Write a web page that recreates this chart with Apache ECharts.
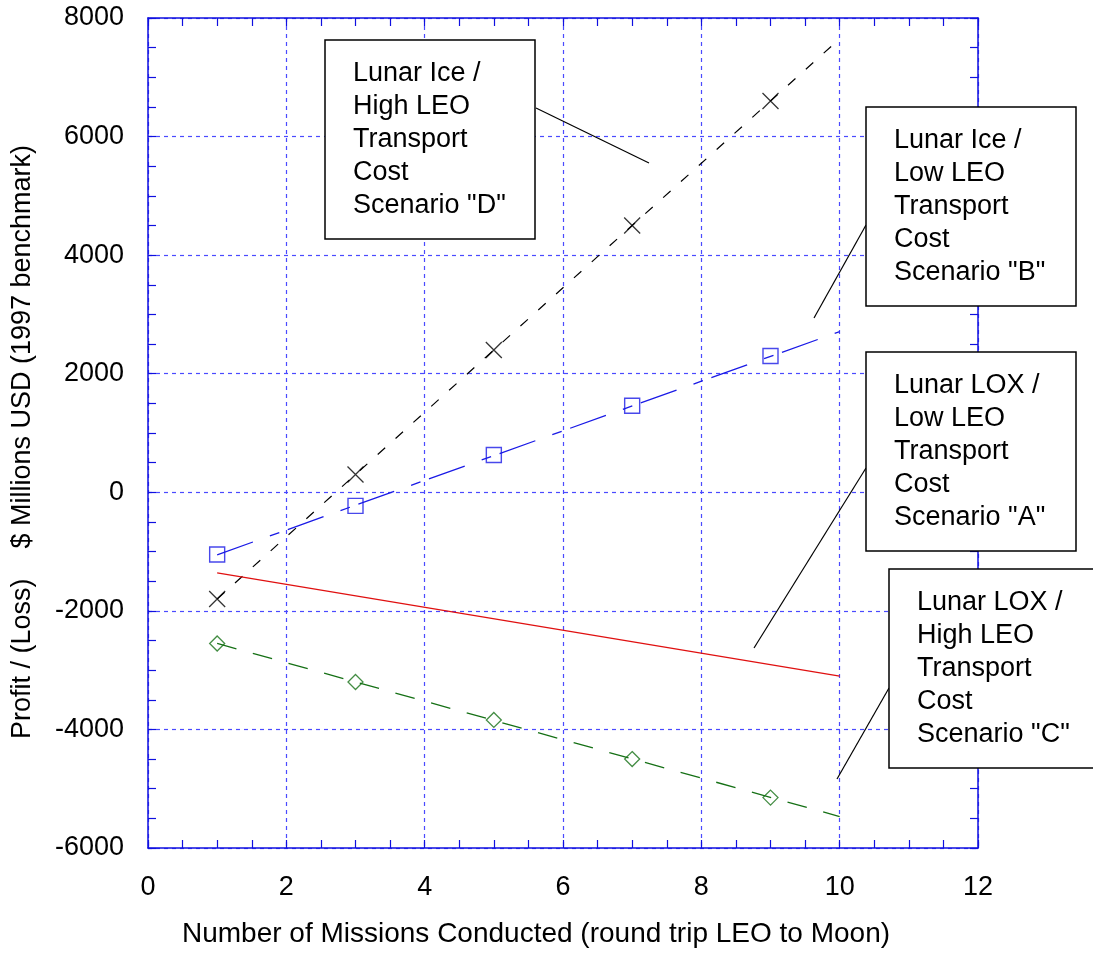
<!DOCTYPE html>
<html>
<head>
<meta charset="utf-8">
<script src="https://cdn.jsdelivr.net/npm/echarts@6/dist/echarts.min.js"></script>
<style>html,body{margin:0;padding:0;background:#fff;}#c{width:1093px;height:953px;}</style>
</head>
<body>
<div id="c"></div>
<script>
// ---- data ----
const missions = [1, 3, 5, 7, 9];
const scenarioD = [-1800, 300, 2400, 4500, 6600];   // Lunar Ice / High LEO (x markers)
const scenarioB = [-1050, -230, 630, 1460, 2300];   // Lunar Ice / Low LEO (squares)
const scenarioC = [-2550, -3200, -3840, -4500, -5150]; // Lunar LOX / High LEO (diamonds)
const fitX = [1, 10];
const fitD = [-1800, 7650];
const fitB = [-1055, 2710];
const fitA = [-1360, -3100];
const fitC = [-2550, -5470];
const xTicks = [0, 2, 4, 6, 8, 10, 12];
const yTicks = [-6000, -4000, -2000, 0, 2000, 4000, 6000, 8000];
const xTitle = 'Number of Missions Conducted (round trip LEO to Moon)';
const yTitle = 'Profit / (Loss)    $ Millions USD (1997 benchmark)';
const labelD = ['Lunar Ice /', 'High LEO', 'Transport', 'Cost', 'Scenario "D"'];
const labelB = ['Lunar Ice /', 'Low LEO', 'Transport', 'Cost', 'Scenario "B"'];
const labelA = ['Lunar LOX /', 'Low LEO', 'Transport', 'Cost', 'Scenario "A"'];
const labelC = ['Lunar LOX /', 'High LEO', 'Transport', 'Cost', 'Scenario "C"'];

const pts = (xs, ys) => xs.map((x, i) => [x, ys[i]]);

const AX = '#1010e0';
const GRID = '#4a4aff';
const reg = "'Liberation Sans',Arial,sans-serif";

function axisCommon(extra) {
  return Object.assign({
    axisLine: { show: true, onZero: false, lineStyle: { color: AX, width: 1.5 } },
    axisTick: { show: true, inside: true, length: 8, lineStyle: { color: AX, width: 1.2 } },
    minorTick: { show: true, splitNumber: 4, length: 8, lineStyle: { color: AX, width: 1.2 } },
  }, extra);
}

function box(left, top, w, h, lines, textLeft) {
  return {
    type: 'group', z: 100,
    children: [
      { type: 'rect', shape: { x: left, y: top, width: w, height: h },
        style: { fill: '#fff', stroke: '#000', lineWidth: 1.5 }, z: 100 },
      { type: 'text', x: textLeft, y: top + 17, z: 101,
        style: { text: lines.join('\n'), font: "27px 'Liberation Sans', Arial, sans-serif",
                 lineHeight: 33, fill: '#000', textVerticalAlign: 'top' } }
    ]
  };
}
function leader(x1, y1, x2, y2) {
  return { type: 'line', z: 99, shape: { x1, y1, x2, y2 }, style: { stroke: '#000', lineWidth: 1.2 } };
}

const chart = echarts.init(document.getElementById('c'), null, { renderer: 'canvas' });
chart.setOption({
  animation: false,
  backgroundColor: '#fff',
  grid: { left: 148, right: 115, top: 18, bottom: 104, containLabel: false },
  xAxis: [
    axisCommon({
      type: 'value', min: xTicks[0], max: xTicks[xTicks.length - 1], interval: 2, position: 'bottom',
      axisLabel: { margin: 26, fontSize: 27, fontFamily: reg, color: '#000', formatter: v => String(v) },
      splitLine: { show: true, lineStyle: { color: GRID, type: [4, 4], width: 1.2 } },
      name: xTitle, nameLocation: 'middle', nameGap: 72,
      nameTextStyle: { fontSize: 28, fontFamily: reg, color: '#000', padding: [0, 54, 0, 0] }
    }),
    axisCommon({
      type: 'value', min: 0, max: 12, interval: 2, position: 'top',
      axisLabel: { show: false }, splitLine: { show: false }
    })
  ],
  yAxis: [
    axisCommon({
      type: 'value', min: yTicks[0], max: yTicks[yTicks.length - 1], interval: 2000, position: 'left',
      axisLabel: { margin: 24, fontSize: 27, fontFamily: reg, color: '#000', formatter: v => String(v) },
      splitLine: { show: true, lineStyle: { color: GRID, type: [4, 4], width: 1.2 } },
      name: yTitle, nameLocation: 'middle', nameRotate: 90, nameGap: 112,
      nameTextStyle: { fontSize: 27, fontFamily: reg, color: '#000', padding: [0, 18, 0, 0] }
    }),
    axisCommon({
      type: 'value', min: -6000, max: 8000, interval: 2000, position: 'right',
      axisLabel: { show: false }, splitLine: { show: false }
    })
  ],
  series: [
    { type: 'line', name: 'D fit', data: pts(fitX, fitD), showSymbol: false, z: 3,
      lineStyle: { color: '#000', width: 1.2, type: [10, 14] } },
    { type: 'line', name: 'B fit', data: pts(fitX, fitB), showSymbol: false, z: 3,
      lineStyle: { color: '#1a1ae6', width: 1.3, type: [38, 18, 10, 9] } },
    { type: 'line', name: 'A fit', data: pts(fitX, fitA), showSymbol: false, z: 3,
      lineStyle: { color: '#e01010', width: 1.3, type: 'solid' } },
    { type: 'line', name: 'C fit', data: pts(fitX, fitC), showSymbol: false, z: 3,
      lineStyle: { color: '#157015', width: 1.3, type: [20, 17] } },
    { type: 'scatter', name: 'D', data: pts(missions, scenarioD), z: 4,
      symbol: 'path://M0,0L10,10M10,0L0,10', symbolSize: 16,
      itemStyle: { color: 'transparent', borderColor: '#000', borderWidth: 1.3 } },
    { type: 'scatter', name: 'B', data: pts(missions, scenarioB), z: 4,
      symbol: 'rect', symbolSize: 15,
      itemStyle: { color: 'transparent', borderColor: '#1a1ae6', borderWidth: 1.4 } },
    { type: 'scatter', name: 'C', data: pts(missions, scenarioC), z: 4,
      symbol: 'diamond', symbolSize: 15,
      itemStyle: { color: 'transparent', borderColor: '#157015', borderWidth: 1.3 } }
  ],
  graphic: [
    leader(536, 108, 649, 163),
    leader(866, 225, 814, 318),
    leader(866, 468, 754, 648),
    leader(889, 688, 837, 779),
    box(325, 40, 210, 199, labelD, 353),
    box(866, 107, 210, 199, labelB, 894),
    box(866, 352, 210, 199, labelA, 894),
    box(889, 569, 215, 199, labelC, 917)
  ]
});
</script>
</body>
</html>
